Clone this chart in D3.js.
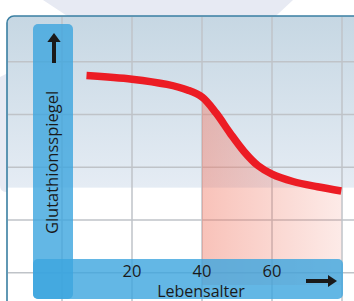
<!DOCTYPE html>
<html>
<head>
<meta charset="utf-8">
<script src="https://cdn.jsdelivr.net/npm/d3@7"></script>
<style>
  body { margin: 0; background: #fff; }
  svg { display: block; font-family: "Open Sans", "Noto Sans", sans-serif; }
</style>
</head>
<body>
<div id="vis"></div>
<script>
// age in years vs. relative glutathione level
const ages = [7, 20, 30, 36, 40, 44, 48, 52, 56, 60, 66, 73, 79.8];
const levels = [4.74, 4.67, 4.57, 4.46, 4.33, 4.03, 3.65, 3.30, 3.03, 2.87, 2.73, 2.63, 2.55];
const xGrid = [0, 20, 40, 60, 80];
const yGrid = [1, 2, 3, 4, 5];
const xTicks = [20, 40, 60];
const shadeFrom = 40, shadeTo = 80;
const xTitle = 'Lebensalter';
const yTitle = 'Glutathionsspiegel';

const W = 354, H = 301;
const data = ages.map((a, i) => ({age: a, v: levels[i]}));

const svg = d3.select('#vis').append('svg')
    .attr('width', W)
    .attr('height', H);

const xScale = d3.scaleLinear().domain([0, 80]).range([62, 342]);
const yScale = d3.scaleLinear().domain([0, 6]).range([325.5, 9]);

const defs = svg.append('defs');
const panelGrad = defs.append('linearGradient')
    .attr('id', 'panelGrad')
    .attr('gradientUnits', 'userSpaceOnUse')
    .attr('x1', 0).attr('x2', 0).attr('y1', 16).attr('y2', 301);
panelGrad.append('stop').attr('offset', 0).attr('stop-color', '#c6d7e3');
panelGrad.append('stop').attr('offset', 0.6).attr('stop-color', '#e5ecf4');
panelGrad.append('stop').attr('offset', 0.605).attr('stop-color', '#ffffff');
panelGrad.append('stop').attr('offset', 1).attr('stop-color', '#ffffff');

const pinkGrad = defs.append('linearGradient')
    .attr('id', 'pinkGrad')
    .attr('gradientUnits', 'userSpaceOnUse')
    .attr('x1', xScale(shadeFrom)).attr('x2', xScale(shadeTo)).attr('y1', 0).attr('y2', 0);
pinkGrad.append('stop').attr('offset', 0).attr('stop-color', 'rgb(240,120,100)').attr('stop-opacity', 0.45);
pinkGrad.append('stop').attr('offset', 1).attr('stop-color', 'rgb(240,120,100)').attr('stop-opacity', 0.15);

defs.append('clipPath').attr('id', 'shadeClip')
    .append('rect')
    .attr('x', xScale(shadeFrom)).attr('y', 0)
    .attr('width', xScale(shadeTo) - xScale(shadeFrom)).attr('height', H);

// decorative background shape
svg.append('path')
    .attr('d', 'M43,0 L293,0 L250,40 L200,192 L6,192 Q0,192 0,185 L0,77 L90,31 Z')
    .attr('fill', '#e7eaf3');

// panel
svg.append('rect')
    .attr('x', 7).attr('y', 16)
    .attr('width', 360).attr('height', 300)
    .attr('rx', 7)
    .attr('fill', 'url(#panelGrad)')
    .attr('stroke', '#3a7fa2')
    .attr('stroke-width', 1.6);

// grid
svg.append('g').selectAll('line').data(xGrid).join('line')
    .attr('x1', d => xScale(d)).attr('x2', d => xScale(d))
    .attr('y1', 17).attr('y2', H)
    .attr('stroke', '#bfc3c8').attr('stroke-width', 1.5);
svg.append('g').selectAll('line').data(yGrid).join('line')
    .attr('x1', 8).attr('x2', W)
    .attr('y1', d => yScale(d)).attr('y2', d => yScale(d))
    .attr('stroke', '#bfc3c8').attr('stroke-width', 1.5);

// shaded area after 40
const curve = d3.curveCatmullRom.alpha(0.5);
const area = d3.area()
    .x(d => xScale(d.age))
    .y0(285)
    .y1(d => yScale(d.v))
    .curve(curve);
svg.append('path')
    .datum(data)
    .attr('clip-path', 'url(#shadeClip)')
    .attr('d', area)
    .attr('fill', 'url(#pinkGrad)');

// curve
const line = d3.line()
    .x(d => xScale(d.age))
    .y(d => yScale(d.v))
    .curve(curve);
svg.append('path')
    .datum(data)
    .attr('d', line)
    .attr('fill', 'none')
    .attr('stroke', '#ec1c24')
    .attr('stroke-width', 7.5);

// axis bands
const bandColor = 'rgb(60,165,222)';
svg.append('rect')
    .attr('x', 33).attr('y', 24).attr('width', 40).attr('height', 275)
    .attr('rx', 5).attr('fill', bandColor).attr('fill-opacity', 0.8);
svg.append('rect')
    .attr('x', 33).attr('y', 259).attr('width', 310).attr('height', 40)
    .attr('rx', 5).attr('fill', bandColor).attr('fill-opacity', 0.8);

// arrows
svg.append('rect').attr('x', 52).attr('y', 40).attr('width', 4).attr('height', 23).attr('fill', '#1a1a1a');
svg.append('path').attr('d', 'M54,33 L60.7,42 L47.3,42 Z').attr('fill', '#1a1a1a');
svg.append('rect').attr('x', 306).attr('y', 279).attr('width', 24).attr('height', 4).attr('fill', '#1a1a1a');
svg.append('path').attr('d', 'M337,281 L328,275 L328,287 Z').attr('fill', '#1a1a1a');

// labels
svg.append('g').selectAll('text').data(xTicks).join('text')
    .attr('x', d => xScale(d))
    .attr('y', 276.5)
    .attr('text-anchor', 'middle')
    .attr('font-size', 16.5)
    .attr('fill', '#1a1a1a')
    .text(d => d);

svg.append('text')
    .attr('x', 201).attr('y', 297)
    .attr('text-anchor', 'middle')
    .attr('font-size', 16)
    .attr('fill', '#1a1a1a')
    .text(xTitle);

svg.append('text')
    .attr('transform', 'translate(58,162.5) rotate(-90)')
    .attr('text-anchor', 'middle')
    .attr('font-size', 16.5)
    .attr('fill', '#1a1a1a')
    .text(yTitle);
</script>
</body>
</html>
